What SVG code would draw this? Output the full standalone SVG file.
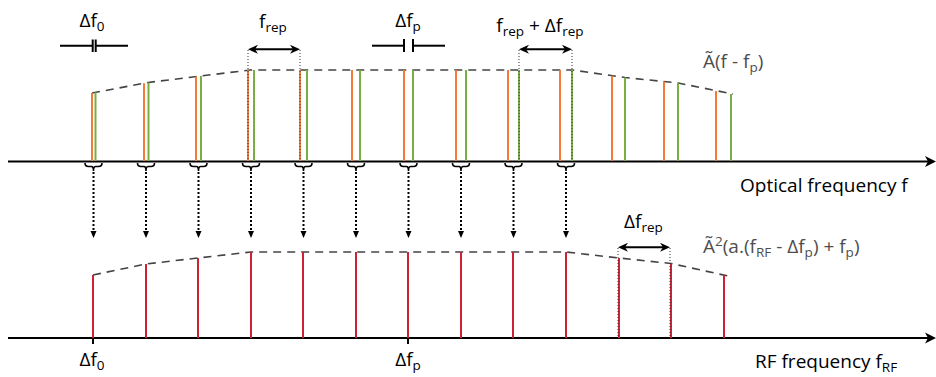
<svg xmlns="http://www.w3.org/2000/svg" xmlns:xlink="http://www.w3.org/1999/xlink" width="936" height="377" viewBox="0 0 936 377">
<style>
.o{stroke:#F47A3A;stroke-width:2}
.g{stroke:#78AF42;stroke-width:2}
.r{stroke:#CC2233;stroke-width:2}
.env{fill:none;stroke:#444;stroke-width:1.6;stroke-dasharray:8 6}
.axis{stroke:#000;stroke-width:2;fill:none}
.dot{stroke:#000;stroke-width:2;stroke-dasharray:2 2}
.guide{stroke:#333;stroke-width:1;stroke-dasharray:1 2}
.brace{fill:none;stroke:#000;stroke-width:1.6}
.dim{stroke:#000;stroke-width:2}
text{font-family:"Open Sans","Noto Sans",sans-serif;font-size:19px;fill:#000}
.grey{fill:#4d4d4d}
.sub{font-size:13.5px}
</style>
<defs>
<path id="ah" d="M0,0 L-10,-4.5 L-7,0 L-10,4.5 Z" fill="#000"/>
<path id="dh" d="M0,0 L-3,-7 L3,-7 Z" fill="#000"/>
<path id="axh" d="M0,0 L-11,-5.5 L-8,0 L-11,5.5 Z" fill="#000"/>
<path id="br" d="M-8.5,0 Q-8.5,3.5 -5,3.5 L-2,3.5 Q0,3.5 0,8 Q0,3.5 2,3.5 L5,3.5 Q8.5,3.5 8.5,0" class="brace"/>
</defs>

<g id="top-axis">
<line class="axis" x1="8" y1="161.5" x2="930" y2="161.5"/>
<use xlink:href="#axh" transform="translate(936,161.5)"/>
</g>

<g id="top-comb">
<polyline class="env" points="92,93 148,82.5 201,76 250,70 572,70 625,77.5 678,83 733,94"/>
<line class="o" x1="92" y1="93" x2="92" y2="161"/>
<line class="o" x1="144" y1="83.3" x2="144" y2="161"/>
<line class="o" x1="196" y1="76.6" x2="196" y2="161"/>
<line class="o" x1="248" y1="70.2" x2="248" y2="161"/>
<line class="o" x1="300" y1="70" x2="300" y2="161"/>
<line class="o" x1="352" y1="70" x2="352" y2="161"/>
<line class="o" x1="404" y1="70" x2="404" y2="161"/>
<line class="o" x1="456" y1="70" x2="456" y2="161"/>
<line class="o" x1="508" y1="70" x2="508" y2="161"/>
<line class="o" x1="560" y1="70" x2="560" y2="161"/>
<line class="o" x1="612" y1="75.7" x2="612" y2="161"/>
<line class="o" x1="664" y1="81.5" x2="664" y2="161"/>
<line class="o" x1="716" y1="90.9" x2="716" y2="161"/>
<line class="g" x1="95.5" y1="92.4" x2="95.5" y2="161"/>
<line class="g" x1="148.5" y1="82.5" x2="148.5" y2="161"/>
<line class="g" x1="201" y1="76" x2="201" y2="161"/>
<line class="g" x1="254" y1="70" x2="254" y2="161"/>
<line class="g" x1="307" y1="70" x2="307" y2="161"/>
<line class="g" x1="360" y1="70" x2="360" y2="161"/>
<line class="g" x1="413" y1="70" x2="413" y2="161"/>
<line class="g" x1="466" y1="70" x2="466" y2="161"/>
<line class="g" x1="519" y1="70" x2="519" y2="161"/>
<line class="g" x1="572" y1="70" x2="572" y2="161"/>
<line class="g" x1="625" y1="77.5" x2="625" y2="161"/>
<line class="g" x1="678" y1="83" x2="678" y2="161"/>
<line class="g" x1="731" y1="94" x2="731" y2="161"/>
<line class="guide" x1="248" y1="50" x2="248" y2="161"/>
<line class="guide" x1="300" y1="50" x2="300" y2="161"/>
<line class="guide" x1="519" y1="50" x2="519" y2="161"/>
<line class="guide" x1="572" y1="50" x2="572" y2="161"/>
</g>

<g id="braces">
<use xlink:href="#br" transform="translate(93.5,163)"/>
<use xlink:href="#br" transform="translate(146,163)"/>
<use xlink:href="#br" transform="translate(198.5,163)"/>
<use xlink:href="#br" transform="translate(251,163)"/>
<use xlink:href="#br" transform="translate(303.5,163)"/>
<use xlink:href="#br" transform="translate(356,163)"/>
<use xlink:href="#br" transform="translate(408.5,163)"/>
<use xlink:href="#br" transform="translate(461,163)"/>
<use xlink:href="#br" transform="translate(513.5,163)"/>
<use xlink:href="#br" transform="translate(566,163)"/>
</g>

<g id="bottom-axis">
<line class="axis" x1="8" y1="338" x2="930" y2="338"/>
<use xlink:href="#axh" transform="translate(936,338)"/>
<line class="axis" x1="93" y1="338" x2="93" y2="344"/>
<line class="axis" x1="408" y1="338" x2="408" y2="344"/>
</g>

<g id="bottom-comb">
<polyline class="env" points="93,275 146,264 198,258 251,252 566,252 619,258 671,263.5 728,276"/>
<line class="r" x1="93" y1="275" x2="93" y2="338"/>
<line class="r" x1="146" y1="264" x2="146" y2="338"/>
<line class="r" x1="198" y1="258" x2="198" y2="338"/>
<line class="r" x1="251" y1="252" x2="251" y2="338"/>
<line class="r" x1="303" y1="252" x2="303" y2="338"/>
<line class="r" x1="356" y1="252" x2="356" y2="338"/>
<line class="r" x1="408" y1="252" x2="408" y2="338"/>
<line class="r" x1="461" y1="252" x2="461" y2="338"/>
<line class="r" x1="513" y1="252" x2="513" y2="338"/>
<line class="r" x1="566" y1="252" x2="566" y2="338"/>
<line class="r" x1="619" y1="258" x2="619" y2="338"/>
<line class="r" x1="671" y1="263.5" x2="671" y2="338"/>
<line class="r" x1="724" y1="275" x2="724" y2="338"/>
<line class="guide" x1="618" y1="248" x2="618" y2="338"/>
<line class="guide" x1="670" y1="248" x2="670" y2="338"/>
</g>

<g id="connectors">
<line class="dot" x1="93.5" y1="172" x2="93.5" y2="232"/><use xlink:href="#dh" transform="translate(93.5,238)"/>
<line class="dot" x1="146" y1="172" x2="146" y2="232"/><use xlink:href="#dh" transform="translate(146,238)"/>
<line class="dot" x1="198.5" y1="172" x2="198.5" y2="232"/><use xlink:href="#dh" transform="translate(198.5,238)"/>
<line class="dot" x1="251" y1="172" x2="251" y2="232"/><use xlink:href="#dh" transform="translate(251,238)"/>
<line class="dot" x1="303.5" y1="172" x2="303.5" y2="232"/><use xlink:href="#dh" transform="translate(303.5,238)"/>
<line class="dot" x1="356" y1="172" x2="356" y2="232"/><use xlink:href="#dh" transform="translate(356,238)"/>
<line class="dot" x1="408.5" y1="172" x2="408.5" y2="232"/><use xlink:href="#dh" transform="translate(408.5,238)"/>
<line class="dot" x1="461" y1="172" x2="461" y2="232"/><use xlink:href="#dh" transform="translate(461,238)"/>
<line class="dot" x1="513.5" y1="172" x2="513.5" y2="232"/><use xlink:href="#dh" transform="translate(513.5,238)"/>
<line class="dot" x1="566" y1="172" x2="566" y2="232"/><use xlink:href="#dh" transform="translate(566,238)"/>
<line class="dim" x1="251" y1="49.3" x2="297" y2="49.3"/>
<use xlink:href="#ah" transform="translate(300,49.3)"/>
<use xlink:href="#ah" transform="translate(248,49.3) scale(-1,1)"/>
<line class="dim" x1="522" y1="49.3" x2="569" y2="49.3"/>
<use xlink:href="#ah" transform="translate(572,49.3)"/>
<use xlink:href="#ah" transform="translate(519,49.3) scale(-1,1)"/>
<line class="dim" x1="621" y1="247.3" x2="667" y2="247.3"/>
<use xlink:href="#ah" transform="translate(670,247.3)"/>
<use xlink:href="#ah" transform="translate(618,247.3) scale(-1,1)"/>
</g>

<g id="delta-f0-marker">
<line class="dim" x1="60" y1="45.7" x2="92.7" y2="45.7"/>
<line class="dim" x1="95.7" y1="45.7" x2="128" y2="45.7"/>
<line class="dim" x1="92.7" y1="39.5" x2="92.7" y2="52"/>
<line class="dim" x1="95.7" y1="39.5" x2="95.7" y2="52"/>
</g>
<g id="delta-fp-marker">
<line class="dim" x1="372" y1="45.7" x2="404" y2="45.7"/>
<line class="dim" x1="413" y1="45.7" x2="445" y2="45.7"/>
<line class="dim" x1="404" y1="39" x2="404" y2="52"/>
<line class="dim" x1="413" y1="39" x2="413" y2="52"/>
</g>

<g id="labels">
<text x="92" y="27" text-anchor="middle">Δf<tspan class="sub" dy="4">0</tspan></text>
<text x="273" y="27.5" text-anchor="middle">f<tspan class="sub" dy="4">rep</tspan></text>
<text x="408" y="27" text-anchor="middle">Δf<tspan class="sub" dy="4">p</tspan></text>
<text x="540" y="31.5" text-anchor="middle">f<tspan class="sub" dy="4">rep</tspan><tspan dy="-4"> + Δf</tspan><tspan class="sub" dy="4">rep</tspan></text>
<text class="grey" x="703" y="68">Ã(f - f<tspan class="sub" dy="4">p</tspan><tspan dy="-4">)</tspan></text>
<text x="740" y="192">Optical frequency f</text>
<text x="624" y="228">Δf<tspan class="sub" dy="4">rep</tspan></text>
<text class="grey" x="703" y="253">Ã<tspan class="sub" dy="-7">2</tspan><tspan dy="7">(a.(f</tspan><tspan class="sub" dy="4">RF</tspan><tspan dy="-4"> - Δf</tspan><tspan class="sub" dy="4">p</tspan><tspan dy="-4">) + f</tspan><tspan class="sub" dy="4">p</tspan><tspan dy="-4">)</tspan></text>
<text x="92" y="366" text-anchor="middle">Δf<tspan class="sub" dy="4">0</tspan></text>
<text x="408" y="366" text-anchor="middle">Δf<tspan class="sub" dy="4">p</tspan></text>
<text x="755" y="368">RF frequency f<tspan class="sub" dy="4">RF</tspan></text>
</g>
</svg>
